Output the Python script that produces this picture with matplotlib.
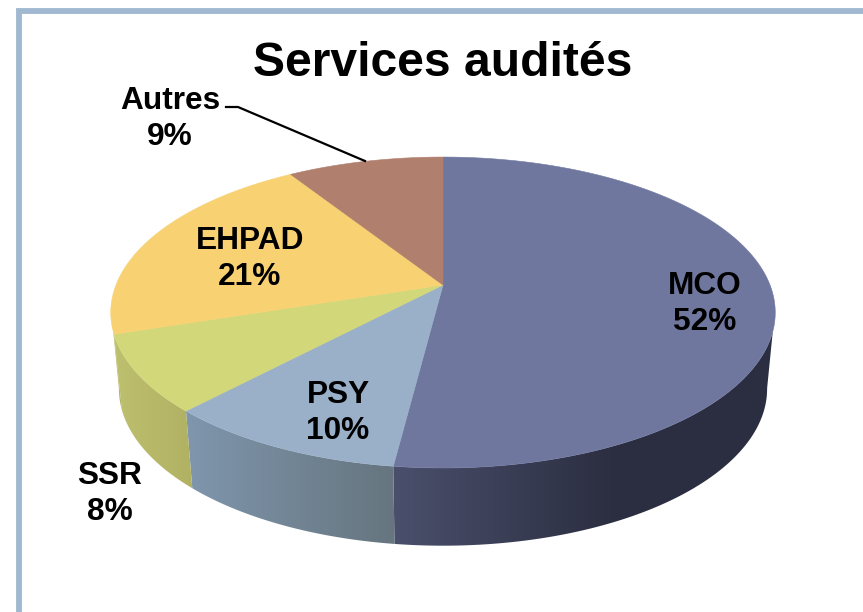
import numpy as np
import matplotlib.pyplot as plt
from matplotlib.patches import Polygon

title = 'Services audités'
categories = ['MCO', 'PSY', 'SSR', 'EHPAD', 'Autres']
values = [52, 10, 8, 21, 9]
top_colors = ['#6f779f', '#9ab0c9', '#d2d779', '#f8d272', '#b07f6d']
# side colours, left then right of each visible wall
side_left = ['#4a4f6c', '#7f96ad', '#bdc06e', '#bdc06e', '#b07f6d']
side_right = ['#2b2e40', '#66757f', '#b1b163', '#b1b163', '#b07f6d']
label_pos = [(705, 304), (338, 413), (110, 494), (250, 259), (170, 119)]

plt.rcParams['font.family'] = ['Liberation Sans', 'DejaVu Sans']

fig = plt.figure(figsize=(8.63, 6.12), dpi=100)
ax = fig.add_axes([0, 0, 1, 1])
ax.set_xlim(0, 863)
ax.set_ylim(612, 0)
ax.axis('off')

# pie disc seen in perspective
k = 0.177


def rim(theta, y0, a, b):
    u, v = np.sin(theta), np.cos(theta)
    w = 1 + k * v
    return 443 + a * u / w, y0 - b * v / w


def top(theta):
    return rim(theta, 285, 327, 150.6)


def bottom(theta):
    return rim(theta, 361, 319, 152)


# frame
ax.add_patch(plt.Rectangle((19, 10.5), 900, 700, fc='white', ec='#a0b8d0', lw=4.2))

fracs = np.cumsum([0] + values) / sum(values) * 2 * np.pi
top_lim = np.radians([107, 253])
bot_lim = np.radians([100, 260])

# side walls first, top disc hides the upper part
for i in range(len(values)):
    t0, t1 = max(fracs[i], top_lim[0]), min(fracs[i + 1], top_lim[1])
    b0, b1 = max(fracs[i], bot_lim[0]), min(fracs[i + 1], bot_lim[1])
    if t1 <= t0 or b1 <= b0:
        continue
    xt, yt = top(np.linspace(t0, t1, 150))
    xb, yb = bottom(np.linspace(b0, b1, 150))
    pts = np.vstack([np.c_[xt, yt], np.c_[xb, yb][::-1]])
    poly = Polygon(pts, fc='none', ec='none')
    ax.add_patch(poly)
    c0 = np.array(plt.matplotlib.colors.to_rgb(side_left[i]))
    c1 = np.array(plt.matplotlib.colors.to_rgb(side_right[i]))
    x0, x1 = pts[:, 0].min(), pts[:, 0].max()
    if i == 0:
        # MCO darkens quickly, then stays flat
        s = np.clip(np.linspace(0, 1, 256) * 1.7, 0, 1)
    else:
        s = np.linspace(0, 1, 256)
    grad = (c0[None, :] * (1 - s[:, None]) + c1[None, :] * s[:, None])[None, :, :]
    im = ax.imshow(grad, extent=[x0, x1, pts[:, 1].max(), pts[:, 1].min()],
                   aspect='auto', zorder=1)
    im.set_clip_path(poly)

ax.set_xlim(0, 863)
ax.set_ylim(612, 0)

# top slices
for i in range(len(values)):
    t = np.linspace(fracs[i], fracs[i + 1], 200)
    xt, yt = top(t)
    xs = np.r_[443, xt]
    ys = np.r_[285, yt]
    ax.fill(xs, ys, fc=top_colors[i], ec=top_colors[i], lw=0.4, zorder=2)

# labels
for cat, val, (x, y) in zip(categories, values, label_pos):
    ax.text(x, y, f'{cat}\n{val}%', ha='center', va='center', fontsize=22.8,
            fontweight='bold', color='black', linespacing=1.3, zorder=3)

ax.plot([226, 238, 365], [107, 107, 161], color='black', lw=1.6, zorder=3)

ax.text(443, 64, title, ha='center', va='center', fontsize=34.6, fontweight='bold',
        color='black', zorder=3)

fig.savefig('out.png', dpi=100)
